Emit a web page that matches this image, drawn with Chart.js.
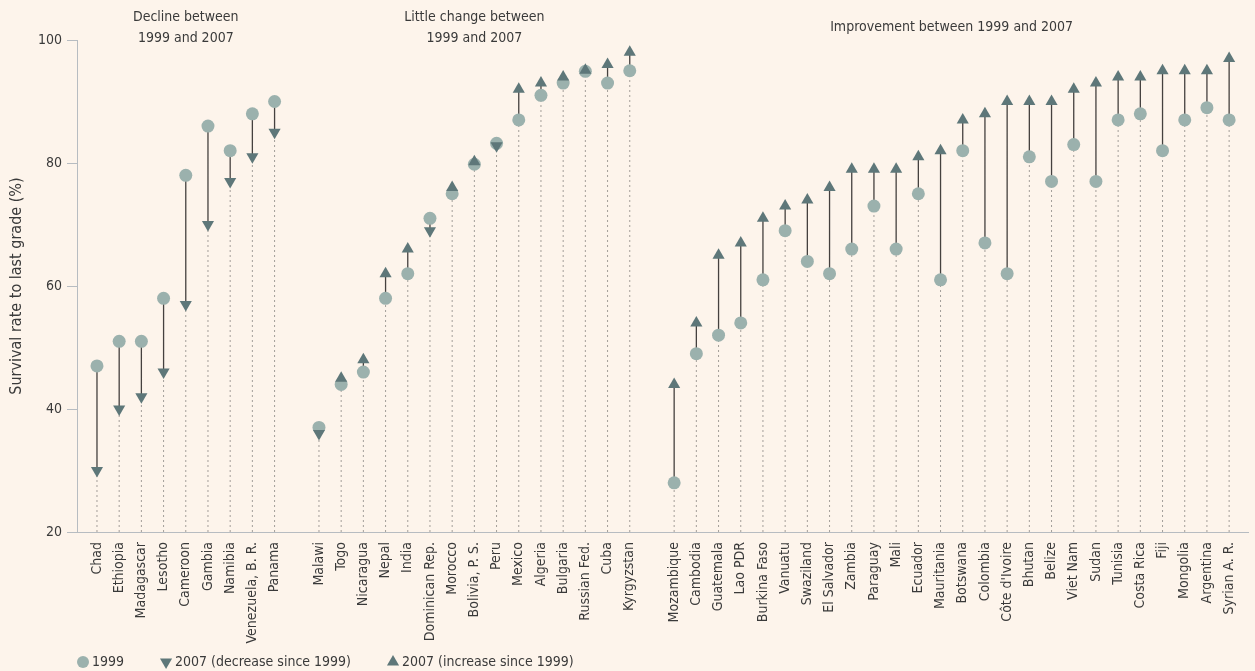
<!DOCTYPE html>
<html>
<head>
<meta charset="utf-8">
<title>Survival rate to last grade, 1999 and 2007</title>
<script src="https://cdn.jsdelivr.net/npm/chart.js@4.4.1/dist/chart.umd.min.js"></script>
<style>
    html, body { margin: 0; padding: 0; background: #fdf4eb; }
    #wrap { position: relative; width: 1255px; height: 671px; }
</style>
</head>
<body>
<div id="wrap"><canvas id="survivalChart"></canvas></div>
<script>
// Pays (les chaînes vides séparent les trois groupes)
const countries = [
    'Chad', 'Ethiopia', 'Madagascar', 'Lesotho', 'Cameroon', 'Gambia', 'Namibia', 'Venezuela, B. R.', 'Panama',
    '',
    'Malawi', 'Togo', 'Nicaragua', 'Nepal', 'India', 'Dominican Rep.', 'Morocco', 'Bolivia, P. S.', 'Peru',
    'Mexico', 'Algeria', 'Bulgaria', 'Russian Fed.', 'Cuba', 'Kyrgyzstan',
    '',
    'Mozambique', 'Cambodia', 'Guatemala', 'Lao PDR', 'Burkina Faso', 'Vanuatu', 'Swaziland', 'El Salvador',
    'Zambia', 'Paraguay', 'Mali', 'Ecuador', 'Mauritania', 'Botswana', 'Colombia', "Côte d'Ivoire", 'Bhutan',
    'Belize', 'Viet Nam', 'Sudan', 'Tunisia', 'Costa Rica', 'Fiji', 'Mongolia', 'Argentina', 'Syrian A. R.'
];

const rate1999 = [
    47, 51, 51, 58, 78, 86, 82, 88, 90,
    null,
    37, 44, 46, 58, 62, 71, 75, 79.8, 83.2, 87, 91, 93, 94.9, 93, 95,
    null,
    28, 49, 52, 54, 61, 69, 64, 62, 66, 73, 66, 75, 61, 82, 67, 62, 81, 77, 83, 77, 87, 88, 82, 87, 89, 87
];

const rate2007 = [
    30, 40, 42, 46, 57, 70, 77, 81, 85,
    null,
    36, 45, 48, 62, 66, 69, 76, 80.2, 82.8, 92, 93, 94, 95.1, 96, 98,
    null,
    44, 54, 65, 67, 71, 73, 74, 76, 79, 79, 79, 81, 82, 87, 88, 90, 90, 90, 92, 93, 94, 94, 95, 95, 95, 97
];

const yTicks = [20, 40, 60, 80, 100];

const groupTitles = [
    ['Decline between', '1999 and 2007'],
    ['Little change between', '1999 and 2007'],
    ['Improvement between 1999 and 2007']
];
const groupCenters = [4, 17, 38.5];

const legendLabels = ['1999', '2007 (decrease since 1999)', '2007 (increase since 1999)'];

// Couleurs
const colCircle = '#9bb1ad';
const colTriangle = '#5e7779';
const colStem = '#45413f';
const colDots = '#a39e99';
const colText = '#3a3a3a';
const colAxis = '#b7bcc1';
const fontFamily = '"Liberation Sans Narrow", "DejaVu Sans Condensed", "Liberation Sans", sans-serif';

// Indices des pays réels
const idx = countries.map((c, i) => i).filter(i => countries[i] !== '');
const downIdx = idx.filter(i => rate2007[i] < rate1999[i]);
const upIdx = idx.filter(i => rate2007[i] >= rate1999[i]);

const circlePts = idx.map(i => ({ x: i, y: rate1999[i] }));
const downPts = downIdx.map(i => ({ x: i, y: rate2007[i] }));
const upPts = upIdx.map(i => ({ x: i, y: rate2007[i] }));
const stemPts = idx.flatMap(i => [{ x: i, y: rate1999[i] }, { x: i, y: rate2007[i] }, { x: i, y: null }]);
const dotPts = idx.flatMap(i => [{ x: i, y: yTicks[0] }, { x: i, y: Math.min(rate1999[i], rate2007[i]) }, { x: i, y: null }]);

// Titres des groupes au-dessus du graphique
const groupTitlePlugin = {
    id: 'groupTitles',
    afterDraw(chart) {
        const ctx = chart.ctx;
        const xs = chart.scales.x;
        ctx.save();
        ctx.fillStyle = colText;
        ctx.font = '14px ' + fontFamily;
        ctx.textAlign = 'center';
        ctx.textBaseline = 'middle';
        groupTitles.forEach(function(lines, g) {
            const x = xs.getPixelForValue(groupCenters[g]);
            if (lines.length === 2) {
                ctx.fillText(lines[0], x, 17);
                ctx.fillText(lines[1], x, 38);
            } else {
                ctx.fillText(lines[0], x, 27);
            }
        });
        ctx.restore();
    }
};

// Légende dessinée en bas à gauche
const legendPlugin = {
    id: 'bottomLegend',
    afterDraw(chart) {
        const ctx = chart.ctx;
        const styles = [
            { pointStyle: 'circle', rotation: 0, color: colCircle, radius: 6 },
            { pointStyle: 'triangle', rotation: 180, color: colTriangle, radius: 7 },
            { pointStyle: 'triangle', rotation: 0, color: colTriangle, radius: 7 }
        ];
        const y = 662;
        let x = 83;
        ctx.save();
        ctx.font = '14px ' + fontFamily;
        ctx.textBaseline = 'middle';
        legendLabels.forEach(function(label, k) {
            ctx.fillStyle = styles[k].color;
            Chart.helpers.drawPoint(ctx, {
                pointStyle: styles[k].pointStyle,
                rotation: styles[k].rotation,
                radius: styles[k].radius,
                borderWidth: 0
            }, x, y);
            ctx.fillStyle = colText;
            ctx.fillText(label, x + 9, y);
            x += 9 + ctx.measureText(label).width + 42;
        });
        ctx.restore();
    }
};

const ctx = document.getElementById('survivalChart').getContext('2d');

new Chart(ctx, {
    type: 'scatter',
    data: {
        datasets: [
            {
                label: '2007 (increase since 1999)',
                data: upPts,
                pointStyle: 'triangle',
                pointRadius: 7,
                pointBackgroundColor: colTriangle,
                pointBorderWidth: 0,
                order: 0
            },
            {
                label: '2007 (decrease since 1999)',
                data: downPts,
                pointStyle: 'triangle',
                rotation: 180,
                pointRadius: 7,
                pointBackgroundColor: colTriangle,
                pointBorderWidth: 0,
                order: 1
            },
            {
                label: '1999',
                data: circlePts,
                pointStyle: 'circle',
                pointRadius: 6.5,
                pointBackgroundColor: colCircle,
                pointBorderWidth: 0,
                order: 2
            },
            {
                label: 'stems',
                data: stemPts,
                showLine: true,
                spanGaps: false,
                borderColor: colStem,
                borderWidth: 1.3,
                pointRadius: 0,
                order: 3
            },
            {
                label: 'dots',
                data: dotPts,
                showLine: true,
                spanGaps: false,
                borderColor: colDots,
                borderWidth: 1,
                borderDash: [2, 3],
                pointRadius: 0,
                order: 4
            }
        ]
    },
    options: {
        responsive: true,
        maintainAspectRatio: false,
        animation: false,
        layout: {
            padding: { top: 40, left: 5, right: 0, bottom: 0 }
        },
        plugins: {
            legend: { display: false },
            tooltip: { enabled: false }
        },
        scales: {
            x: {
                type: 'linear',
                min: -0.9,
                max: 51.85,
                afterBuildTicks: function(scale) {
                    scale.ticks = idx.map(v => ({ value: v }));
                },
                afterFit: function(scale) {
                    scale.height = 139;
                },
                grid: { display: false },
                border: { display: true, color: colAxis, width: 1 },
                ticks: {
                    autoSkip: false,
                    minRotation: 90,
                    maxRotation: 90,
                    padding: 2,
                    color: colText,
                    font: { family: fontFamily, size: 14 },
                    callback: function(value) {
                        return countries[value];
                    }
                }
            },
            y: {
                min: 20,
                max: 100,
                afterBuildTicks: function(scale) {
                    scale.ticks = yTicks.map(v => ({ value: v }));
                },
                afterFit: function(scale) {
                    scale.width = 72;
                },
                grid: {
                    display: true,
                    drawOnChartArea: false,
                    drawTicks: true,
                    tickLength: 10,
                    color: colAxis
                },
                border: { display: true, color: colAxis, width: 1 },
                title: {
                    display: true,
                    text: 'Survival rate to last grade (%)',
                    color: colText,
                    font: { family: fontFamily, size: 16 },
                    padding: { top: 2, bottom: 0 }
                },
                ticks: {
                    padding: 5,
                    color: colText,
                    font: { family: fontFamily, size: 14 }
                }
            }
        }
    },
    plugins: [groupTitlePlugin, legendPlugin]
});
</script>
</body>
</html>
